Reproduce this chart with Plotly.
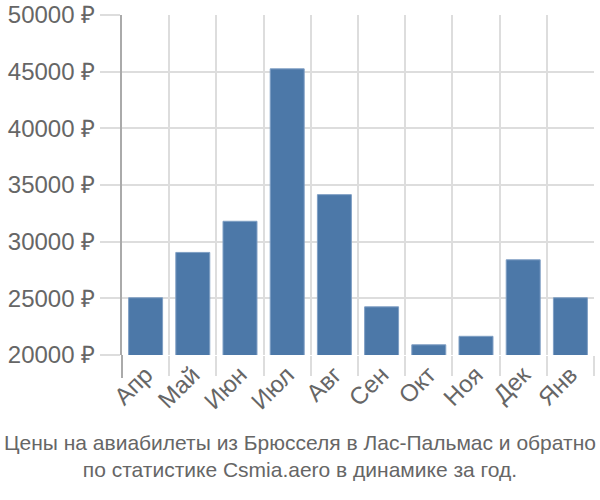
import plotly.graph_objects as go

months = ["Апр", "Май", "Июн", "Июл", "Авг", "Сен", "Окт", "Ноя", "Дек", "Янв"]
prices = [25050, 29050, 31800, 45250, 34150, 24250, 20900, 21650, 28400, 25050]
y_ticks = [20000, 25000, 30000, 35000, 40000, 45000, 50000]
title_lines = ["Цены на авиабилеты из Брюсселя в Лас-Пальмас и обратно",
               "по статистике Csmia.aero в динамике за год."]

PL, PR = 122, 6
plot_w = 600 - PL - PR

fig = go.Figure(go.Bar(
    x=months, y=prices,
    marker=dict(color="#4c78a8", line=dict(color="#7f9fc4", width=1)),
    width=0.72,
))

fig.update_layout(
    width=600, height=500,
    margin=dict(l=PL, r=PR, t=15, b=145),
    paper_bgcolor="white", plot_bgcolor="white",
    font=dict(family="Liberation Sans, Arial, sans-serif", color="#666666"),
    showlegend=False,
)
fig.update_xaxes(
    type="category",
    tickson="boundaries",
    ticks="outside", ticklen=20, tickcolor="#dddddd", tickwidth=2,
    showgrid=True, gridcolor="#dddddd", gridwidth=2,
    tickangle=-45,
    tickfont=dict(size=24, color="#666666"),
    showline=False,
    zeroline=False,
    automargin=False,
)
fig.update_yaxes(
    range=[20000, 50000],
    tickvals=y_ticks,
    ticktext=[f"{v} ₽" for v in y_ticks],
    ticks="outside", ticklen=20, tickcolor="#dddddd", tickwidth=2,
    showgrid=True, gridcolor="#dddddd", gridwidth=2,
    tickfont=dict(size=24, color="#666666"),
    showline=True, linecolor="#aaaaaa", linewidth=2,
    zeroline=False,
    automargin=False,
)
fig.add_shape(
    type="line", xref="paper", yref="paper",
    x0=0, x1=0, ysizemode="pixel", yanchor=0, y0=0, y1=-23,
    line=dict(color="#aaaaaa", width=2),
)
fig.add_annotation(
    x=(300 - PL) / plot_w, y=0, xref="paper", yref="paper",
    xanchor="center", yanchor="top", yshift=-74,
    text="<br>".join(title_lines),
    showarrow=False,
    font=dict(family="Liberation Sans, Arial", size=21, color="#666666"),
)

fig.write_html("out.html")
